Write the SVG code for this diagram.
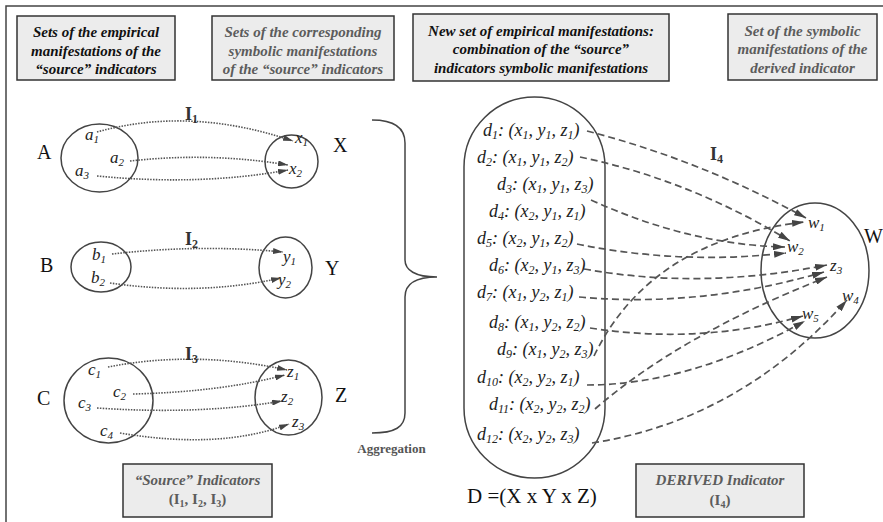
<svg xmlns="http://www.w3.org/2000/svg" width="883" height="522" viewBox="0 0 883 522">
<style>
.box{fill:#ececec;stroke:#333;stroke-width:1.5}
.hd{font-family:"Liberation Serif",serif;font-size:15px;font-weight:bold;font-style:italic;text-anchor:middle}
.blk{fill:#111}
.gry{fill:#5c5c5c}
.big{font-family:"Liberation Serif",serif;font-size:20px;fill:#111}
.it{font-family:"Liberation Serif",serif;font-size:17px;font-style:italic;fill:#222}
.dl{font-size:18px}
.il{font-family:"Liberation Serif",serif;font-size:18px;font-weight:bold;fill:#333}
.shape{fill:none;stroke:#444;stroke-width:1.5}
.dot{fill:none;stroke:#555;stroke-width:1.6;stroke-dasharray:1.5 1.3;marker-end:url(#ahs)}
.dash{fill:none;stroke:#555;stroke-width:1.7;stroke-dasharray:7 4;marker-end:url(#ah)}
</style>
<defs>
<marker id="ah" viewBox="0 0 12 7" refX="12" refY="3.5" markerWidth="12" markerHeight="7" markerUnits="userSpaceOnUse" orient="auto"><path d="M0,0 L12,3.5 L0,7 z" fill="#444"/></marker>
<marker id="ahs" viewBox="0 0 10 6" refX="10" refY="3" markerWidth="10" markerHeight="6" markerUnits="userSpaceOnUse" orient="auto"><path d="M0,0 L10,3 L0,6 z" fill="#444"/></marker>
</defs>
<rect width="883" height="522" fill="#fff"/>
<path d="M6,522 L6,6 L883,6" fill="none" stroke="#444" stroke-width="1.5"/>

<g id="header1"><rect class="box" x="17" y="16" width="158" height="64"/>
<text class="hd blk" x="96" y="37">Sets of the empirical</text>
<text class="hd blk" x="96" y="55.5">manifestations of the</text>
<text class="hd blk" x="96" y="74">“source” indicators</text></g>
<g id="header2"><rect class="box" x="212" y="16" width="182" height="64"/>
<text class="hd gry" x="303" y="37">Sets of the corresponding</text>
<text class="hd gry" x="303" y="55.5">symbolic manifestations</text>
<text class="hd gry" x="303" y="74">of the “source” indicators</text></g>
<g id="header3"><rect class="box" x="413" y="14" width="256" height="67"/>
<text class="hd blk" x="541" y="35.5">New set of empirical manifestations:</text>
<text class="hd blk" x="541" y="54">combination of the “source”</text>
<text class="hd blk" x="541" y="72.5">indicators symbolic manifestations</text></g>
<g id="header4"><rect class="box" x="728" y="14" width="149" height="66"/>
<text class="hd gry" x="802.5" y="35.5">Set of the symbolic</text>
<text class="hd gry" x="802.5" y="54">manifestations of the</text>
<text class="hd gry" x="802.5" y="72.5">derived indicator</text></g>

<g id="setA"><ellipse class="shape" cx="99.5" cy="158" rx="38.5" ry="34"/>
<text class="big" x="37" y="159">A</text>
<text class="it" x="85" y="140">a<tspan font-size="11" dy="3">1</tspan></text>
<text class="it" x="110" y="163">a<tspan font-size="11" dy="3">2</tspan></text>
<text class="it" x="75" y="176">a<tspan font-size="11" dy="3">3</tspan></text></g>
<g id="setX"><ellipse class="shape" cx="291.5" cy="161.5" rx="26.5" ry="26.5"/>
<text class="big" x="333" y="152">X</text>
<text class="it" x="295" y="143">x<tspan font-size="11" dy="3">1</tspan></text>
<text class="it" x="289" y="174">x<tspan font-size="11" dy="3">2</tspan></text></g>
<g id="setB"><ellipse class="shape" cx="101" cy="267" rx="30" ry="25"/>
<text class="big" x="40" y="272">B</text>
<text class="it" x="92" y="260">b<tspan font-size="11" dy="3">1</tspan></text>
<text class="it" x="91" y="283">b<tspan font-size="11" dy="3">2</tspan></text></g>
<g id="setY"><ellipse class="shape" cx="285.5" cy="267.5" rx="26.5" ry="30.5"/>
<text class="big" x="325" y="275">Y</text>
<text class="it" x="283" y="262">y<tspan font-size="11" dy="3">1</tspan></text>
<text class="it" x="278" y="285">y<tspan font-size="11" dy="3">2</tspan></text></g>
<g id="setC"><ellipse class="shape" cx="108.5" cy="400.5" rx="44.5" ry="42.5"/>
<text class="big" x="37" y="405">C</text>
<text class="it" x="88" y="375">c<tspan font-size="11" dy="3">1</tspan></text>
<text class="it" x="113" y="397">c<tspan font-size="11" dy="3">2</tspan></text>
<text class="it" x="78" y="408">c<tspan font-size="11" dy="3">3</tspan></text>
<text class="it" x="100" y="436">c<tspan font-size="11" dy="3">4</tspan></text></g>
<g id="setZ"><ellipse class="shape" cx="288.5" cy="397.5" rx="33.5" ry="37.5"/>
<text class="big" x="335" y="402">Z</text>
<text class="it" x="287" y="377">z<tspan font-size="11" dy="3">1</tspan></text>
<text class="it" x="281" y="402">z<tspan font-size="11" dy="3">2</tspan></text>
<text class="it" x="292" y="427">z<tspan font-size="11" dy="3">3</tspan></text></g>

<g id="aggregation"><path class="shape" d="M372,120 C395,120 405,128 405,143 L405,260 C405,270 415,277 437,277 C415,277 405,284 405,297 L405,413 C405,427 395,433 372,433"/>
<text x="391.5" y="453" font-family="Liberation Serif,serif" font-size="13" font-weight="bold" fill="#555" text-anchor="middle">Aggregation</text></g>

<g id="setD"><rect class="shape" x="464" y="97" width="141" height="381" rx="70.5" ry="70"/>
<g class="it dl">
<text x="483" y="136">d<tspan font-size="12" dy="3">1</tspan><tspan dy="-3">: (x</tspan><tspan font-size="12" dy="3">1</tspan><tspan dy="-3">, y</tspan><tspan font-size="12" dy="3">1</tspan><tspan dy="-3">, z</tspan><tspan font-size="12" dy="3">1</tspan><tspan dy="-3">)</tspan></text>
<text x="477" y="163">d<tspan font-size="12" dy="3">2</tspan><tspan dy="-3">: (x</tspan><tspan font-size="12" dy="3">1</tspan><tspan dy="-3">, y</tspan><tspan font-size="12" dy="3">1</tspan><tspan dy="-3">, z</tspan><tspan font-size="12" dy="3">2</tspan><tspan dy="-3">)</tspan></text>
<text x="497" y="190">d<tspan font-size="12" dy="3">3</tspan><tspan dy="-3">: (x</tspan><tspan font-size="12" dy="3">1</tspan><tspan dy="-3">, y</tspan><tspan font-size="12" dy="3">1</tspan><tspan dy="-3">, z</tspan><tspan font-size="12" dy="3">3</tspan><tspan dy="-3">)</tspan></text>
<text x="489" y="217">d<tspan font-size="12" dy="3">4</tspan><tspan dy="-3">: (x</tspan><tspan font-size="12" dy="3">2</tspan><tspan dy="-3">, y</tspan><tspan font-size="12" dy="3">1</tspan><tspan dy="-3">, z</tspan><tspan font-size="12" dy="3">1</tspan><tspan dy="-3">)</tspan></text>
<text x="477" y="244">d<tspan font-size="12" dy="3">5</tspan><tspan dy="-3">: (x</tspan><tspan font-size="12" dy="3">2</tspan><tspan dy="-3">, y</tspan><tspan font-size="12" dy="3">1</tspan><tspan dy="-3">, z</tspan><tspan font-size="12" dy="3">2</tspan><tspan dy="-3">)</tspan></text>
<text x="489" y="271">d<tspan font-size="12" dy="3">6</tspan><tspan dy="-3">: (x</tspan><tspan font-size="12" dy="3">2</tspan><tspan dy="-3">, y</tspan><tspan font-size="12" dy="3">1</tspan><tspan dy="-3">, z</tspan><tspan font-size="12" dy="3">3</tspan><tspan dy="-3">)</tspan></text>
<text x="477" y="298">d<tspan font-size="12" dy="3">7</tspan><tspan dy="-3">: (x</tspan><tspan font-size="12" dy="3">1</tspan><tspan dy="-3">, y</tspan><tspan font-size="12" dy="3">2</tspan><tspan dy="-3">, z</tspan><tspan font-size="12" dy="3">1</tspan><tspan dy="-3">)</tspan></text>
<text x="489" y="328">d<tspan font-size="12" dy="3">8</tspan><tspan dy="-3">: (x</tspan><tspan font-size="12" dy="3">1</tspan><tspan dy="-3">, y</tspan><tspan font-size="12" dy="3">2</tspan><tspan dy="-3">, z</tspan><tspan font-size="12" dy="3">2</tspan><tspan dy="-3">)</tspan></text>
<text x="497" y="355">d<tspan font-size="12" dy="3">9</tspan><tspan dy="-3">: (x</tspan><tspan font-size="12" dy="3">1</tspan><tspan dy="-3">, y</tspan><tspan font-size="12" dy="3">2</tspan><tspan dy="-3">, z</tspan><tspan font-size="12" dy="3">3</tspan><tspan dy="-3">)</tspan></text>
<text x="477" y="383">d<tspan font-size="12" dy="3">10</tspan><tspan dy="-3">: (x</tspan><tspan font-size="12" dy="3">2</tspan><tspan dy="-3">, y</tspan><tspan font-size="12" dy="3">2</tspan><tspan dy="-3">, z</tspan><tspan font-size="12" dy="3">1</tspan><tspan dy="-3">)</tspan></text>
<text x="489" y="410">d<tspan font-size="12" dy="3">11</tspan><tspan dy="-3">: (x</tspan><tspan font-size="12" dy="3">2</tspan><tspan dy="-3">, y</tspan><tspan font-size="12" dy="3">2</tspan><tspan dy="-3">, z</tspan><tspan font-size="12" dy="3">2</tspan><tspan dy="-3">)</tspan></text>
<text x="477" y="440">d<tspan font-size="12" dy="3">12</tspan><tspan dy="-3">: (x</tspan><tspan font-size="12" dy="3">2</tspan><tspan dy="-3">, y</tspan><tspan font-size="12" dy="3">2</tspan><tspan dy="-3">, z</tspan><tspan font-size="12" dy="3">3</tspan><tspan dy="-3">)</tspan></text>
</g>
<text x="467" y="503" font-family="Liberation Serif,serif" font-size="21" fill="#111">D =(X x Y x Z)</text></g>

<g id="setW"><ellipse class="shape" cx="815" cy="270.5" rx="54" ry="67.5"/>
<text class="big" x="864" y="243">W</text>
<text class="it" x="808" y="228">w<tspan font-size="11" dy="3">1</tspan></text>
<text class="it" x="787" y="252">w<tspan font-size="11" dy="3">2</tspan></text>
<text class="it" x="830" y="271">z<tspan font-size="11" dy="3">3</tspan></text>
<text class="it" x="842" y="301">w<tspan font-size="11" dy="3">4</tspan></text>
<text class="it" x="802" y="319">w<tspan font-size="11" dy="3">5</tspan></text></g>

<g id="source-box"><rect class="box" x="123" y="464" width="149" height="53"/>
<text class="hd gry" x="197.5" y="485">“Source” Indicators</text>
<text x="197.5" y="504" font-family="Liberation Serif,serif" font-size="15" font-weight="bold" fill="#5c5c5c" text-anchor="middle">(I<tspan font-size="10" dy="3">1</tspan><tspan dy="-3">, I</tspan><tspan font-size="10" dy="3">2</tspan><tspan dy="-3">, I</tspan><tspan font-size="10" dy="3">3</tspan><tspan dy="-3">)</tspan></text></g>
<g id="derived-box"><rect class="box" x="636" y="464" width="168" height="53"/>
<text class="hd gry" x="720" y="485">DERIVED Indicator</text>
<text x="720" y="505" font-family="Liberation Serif,serif" font-size="15" font-weight="bold" fill="#5c5c5c" text-anchor="middle">(I<tspan font-size="10" dy="3">4</tspan><tspan dy="-3">)</tspan></text></g>

<g id="connectors">
<path class="dot" d="M97,132 Q190,106 293,141"/>
<path class="dot" d="M130,161 Q210,152 288,165"/>
<path class="dot" d="M97,176 Q200,186 288,170"/>
<path class="dot" d="M112,254 Q200,244 283,252"/>
<path class="dot" d="M110,283 Q200,296 281,278"/>
<path class="dot" d="M108,367 Q195,350 287,370"/>
<path class="dot" d="M133,394 Q220,392 285,375"/>
<path class="dot" d="M97,408 Q200,415 282,401"/>
<path class="dot" d="M120,433 Q220,450 289,424"/>
<path class="dash" d="M587,131 Q700,160 806,218"/>
<path class="dash" d="M580,157 Q690,180 790,241"/>
<path class="dash" d="M591,200 Q690,245 785,247"/>
<path class="dash" d="M577,244 Q680,265 786,253"/>
<path class="dash" d="M584,269 Q700,290 827,265"/>
<path class="dash" d="M579,297 Q700,308 824,272"/>
<path class="dash" d="M590,328 Q700,345 803,316"/>
<path class="dash" d="M594,356 Q650,240 804,222"/>
<path class="dash" d="M587,385 Q690,385 805,321"/>
<path class="dash" d="M595,409 Q680,335 827,277"/>
<path class="dash" d="M592,443 Q740,420 847,300"/>
</g>
<g id="arrow-labels">
<text class="il" x="185" y="120">I<tspan font-size="12" dy="3">1</tspan></text>
<text class="il" x="185" y="245">I<tspan font-size="12" dy="3">2</tspan></text>
<text class="il" x="185" y="360">I<tspan font-size="12" dy="3">3</tspan></text>
<text class="il" x="710" y="160">I<tspan font-size="12" dy="3">4</tspan></text>
</g>
</svg>
